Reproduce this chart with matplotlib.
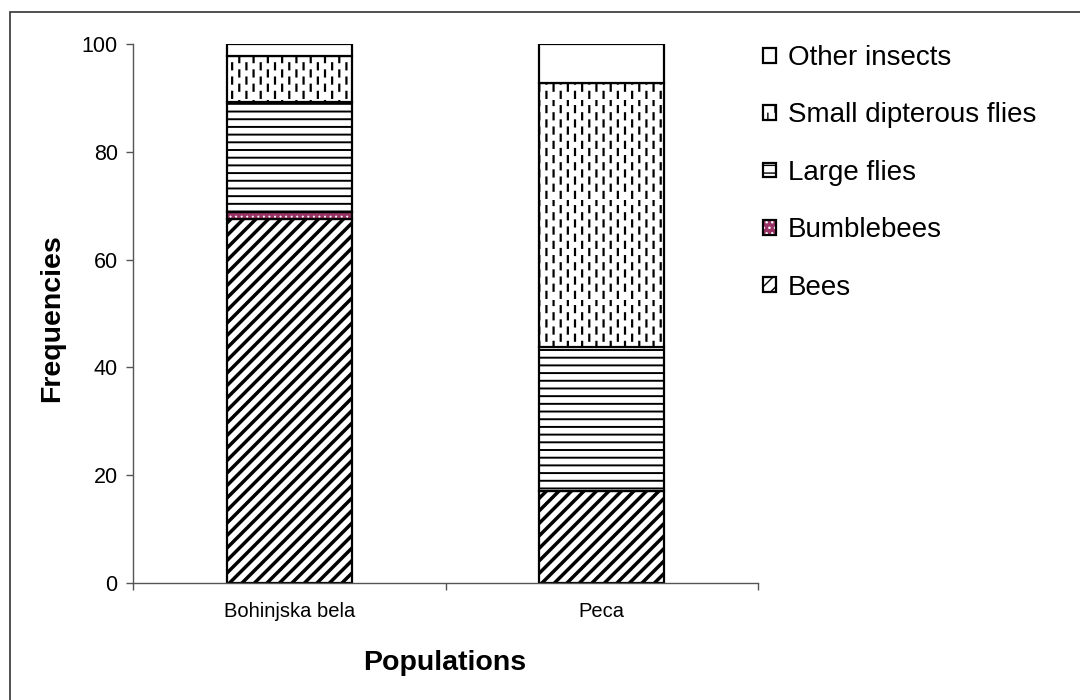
import warnings
import numpy as np
import matplotlib
matplotlib.use('Agg')
import matplotlib.pyplot as plt
from matplotlib import hatch as mhatch
from matplotlib.path import Path
from matplotlib.patches import Rectangle
from matplotlib.legend_handler import HandlerTuple

warnings.filterwarnings('ignore')

populations = ['Bohinjska bela', 'Peca']
bees = [67.5, 17.0]
bumblebees = [1.3, 0.0]
large_flies = [20.5, 26.7]
small_dipterous = [8.5, 49.1]
other_insects = [2.2, 7.2]
yticks = [0, 20, 40, 60, 80, 100]


# hatch patterns closer to the old Excel fills
class PictureHatch(mhatch.HatchPatternBase):
    def __init__(self, hatch, density):
        segs = []
        if 'd' in hatch:
            for c in np.arange(-8, 9) / 8:
                segs.append(((-0.2, -0.2 - c), (1.2, 1.2 - c)))
        if 'h' in hatch:
            for k in range(13):
                y = (k + 0.5) / 13
                segs.append(((0, y), (1, y)))
        if ':' in hatch:
            ncol, nrow = 14, 7
            for i in range(ncol):
                x = (i + 0.5) / ncol
                off = 0.5 if i % 2 else 0.0
                for j in range(nrow):
                    y = (j + off + 0.15) / nrow
                    segs.append(((x, y), (x, y + 0.06)))
        self.segs = segs
        self.num_vertices = 2 * len(segs)

    def set_vertices_and_codes(self, vertices, codes):
        pts = [p for s in self.segs for p in s]
        vertices[:] = pts
        codes[0::2] = Path.MOVETO
        codes[1::2] = Path.LINETO


mhatch._hatch_types.append(PictureHatch)

plt.rcParams['font.family'] = ['Liberation Sans', 'DejaVu Sans']

fig = plt.figure(figsize=(10.8, 7), dpi=100)
ax = fig.add_axes([133 / 1080, 1 - 583 / 700, 625 / 1080, 539 / 700])

x = np.arange(len(populations))
w = 0.4
edge_lw = 1.6

bottom = np.zeros(len(populations))
with plt.rc_context({'hatch.linewidth': 2.5}):
    b_bees = ax.bar(x, bees, w, bottom=bottom, color='white', edgecolor='black',
                    hatch='d', linewidth=edge_lw, label='Bees')
bottom += bees

with plt.rc_context({'hatch.linewidth': 0.7}):
    b_bb_fill = ax.bar(x, bumblebees, w, bottom=bottom, color='#993366',
                       edgecolor='white', hatch='...', linewidth=0)
b_bb_edge = ax.bar(x, bumblebees, w, bottom=bottom, fill=False, edgecolor='black',
                   linewidth=[edge_lw if v > 0 else 0 for v in bumblebees])
bottom += bumblebees

with plt.rc_context({'hatch.linewidth': 1.4}):
    b_large = ax.bar(x, large_flies, w, bottom=bottom, color='white',
                     edgecolor='black', hatch='h', linewidth=edge_lw)
bottom += large_flies

with plt.rc_context({'hatch.linewidth': 1.6}):
    b_small = ax.bar(x, small_dipterous, w, bottom=bottom, color='white',
                     edgecolor='black', hatch=':', linewidth=edge_lw)
bottom += small_dipterous

b_other = ax.bar(x, other_insects, w, bottom=bottom, color='white',
                 edgecolor='black', linewidth=edge_lw)

ax.set_xlim(-0.5, 1.5)
ax.set_ylim(0, 100)
ax.set_yticks(yticks)
ax.set_xticks(x)
ax.set_xticklabels(populations)
ax.set_xticks([-0.5, 0.5, 1.5], minor=True)
ax.tick_params(axis='x', which='major', length=0, pad=14, labelsize=14.5)
ax.tick_params(axis='x', which='minor', length=5, width=1, color='#555555')
ax.tick_params(axis='y', length=5, width=1, color='#555555', pad=6, labelsize=15.5)
for s in ['top', 'right']:
    ax.spines[s].set_visible(False)
for s in ['left', 'bottom']:
    ax.spines[s].set_color('#555555')
    ax.spines[s].set_linewidth(1)

fig.text(52 / 1080, 1 - 318 / 700, 'Frequencies', rotation=90, ha='center',
         va='center', fontsize=20.5, fontweight='bold')
fig.text(445 / 1080, 1 - 663 / 700, 'Populations', ha='center', va='center',
         fontsize=20.5, fontweight='bold')

handles = [b_other, b_small, b_large, (b_bb_fill, b_bb_edge), b_bees]
labels = ['Other insects', 'Small dipterous flies', 'Large flies', 'Bumblebees', 'Bees']
leg = fig.legend(handles, labels, loc='upper left', bbox_to_anchor=(752 / 1080, 1 - 34 / 700),
                 frameon=False, fontsize=20, handlelength=0.45, handleheight=0.45,
                 handletextpad=0.45, labelspacing=1.13, borderaxespad=0,
                 handler_map={tuple: HandlerTuple(ndivide=1, pad=0)})

fig.add_artist(Rectangle((10 / 1080, -0.1), 1.2, 1.1 - 12 / 700, transform=fig.transFigure,
                         fill=False, edgecolor='#333333', linewidth=1.2))

fig.savefig('out.png', dpi=100, facecolor='white')
